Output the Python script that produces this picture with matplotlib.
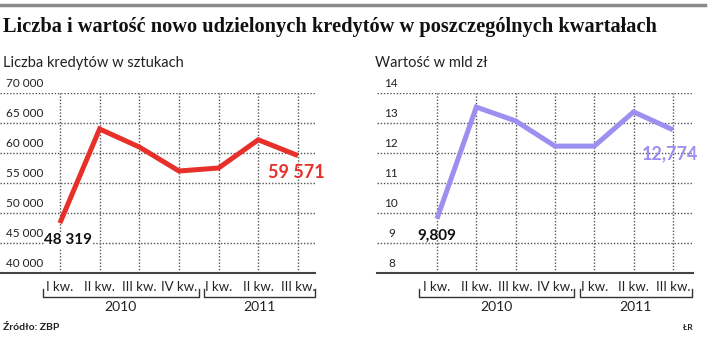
import matplotlib
matplotlib.use('Agg')
import matplotlib.pyplot as plt
import matplotlib.transforms as mtrans

# Dane (kwartały 2010-2011)
quarters = ['I kw.', 'II kw.', 'III kw.', 'IV kw.', 'I kw.', 'II kw.', 'III kw.']
years = ['2010', '2011']
count = [48319, 64000, 61000, 57000, 57500, 62200, 59571]
value = [9.809, 13.53, 13.07, 12.23, 12.23, 13.37, 12.774]
count_ticks = [40000, 45000, 50000, 55000, 60000, 65000, 70000]
count_tick_labels = ['40 000', '45 000', '50 000', '55 000', '60 000', '65 000', '70 000']
value_ticks = [8, 9, 10, 11, 12, 13, 14]

RED = '#e8302a'
PURPLE = '#9b8ff0'
GRID = '#555555'
W, H = 716, 342

plt.rcParams['font.family'] = ['Lato', 'DejaVu Sans']

fig = plt.figure(figsize=(W / 100, H / 100), dpi=100)


def px_axes(x0, x1, ytop, ybot):
    return fig.add_axes([x0 / W, (H - ybot) / H, (x1 - x0) / W, (ybot - ytop) / H])


def setup(ax, xlim, ylim, ticks):
    ax.set_xlim(*xlim)
    ax.set_ylim(*ylim)
    for s in ax.spines.values():
        s.set_visible(False)
    ax.set_xticks([])
    ax.set_yticks([])
    for t in ticks[1:]:
        ax.axhline(t, color=GRID, lw=1.0, ls=(0, (1, 1.3)), zorder=1)
    for i in range(len(quarters)):
        ax.axvline(i, color=GRID, lw=1.0, ls=(0, (1, 1.3)), zorder=1)
    ax.axhline(ylim[0], color='#444444', lw=1.5, zorder=2, clip_on=False)
    tr = mtrans.blended_transform_factory(ax.transData, ax.transAxes)
    for i, q in enumerate(quarters):
        ax.text(i, -0.078, q, transform=tr, ha='center', va='center',
                fontsize=9.5, color='#222222')
    return tr


def brackets(ax, tr, spans):
    for (a, b), yr in zip(spans, years):
        ax.plot([a, a, b, b], [-0.09, -0.133, -0.133, -0.09], transform=tr,
                color='#333333', lw=1.0, clip_on=False)
        ax.text((a + b) / 2, -0.19, yr, transform=tr, ha='center', va='center',
                fontsize=10, color='#222222')


# Lewy wykres - liczba kredytów
ax1 = px_axes(0, 315, 93, 273)
tr1 = setup(ax1, (-1.51, 6.43), (40000, 70000), count_ticks)
ax1.plot(range(len(count)), count, color=RED, lw=3.6, zorder=3,
         solid_capstyle='butt', solid_joinstyle='miter')
for t, lab in zip(count_ticks, count_tick_labels):
    ax1.annotate(lab, (-1.51, t), xytext=(4, 3), textcoords='offset points',
                 ha='left', va='bottom', fontsize=8.5, color='#222222')
ax1.annotate('48 319', (0, count[0]), xytext=(6, -12), textcoords='offset points',
             ha='center', va='center', fontsize=11, fontweight='bold', color='#111111',
             bbox=dict(boxstyle='square,pad=0.05', fc='white', ec='none'), zorder=4)
ax1.annotate('59 571', (6, count[-1]), xytext=(-1, -12), textcoords='offset points',
             ha='center', va='center', fontsize=13, fontweight='bold', color=RED)
brackets(ax1, tr1, [(-0.43, 3.5), (3.63, 6.43)])

# Prawy wykres - wartość
ax2 = px_axes(377, 693, 93, 273)
tr2 = setup(ax2, (-1.525, 6.51), (8, 14), value_ticks)
ax2.plot(range(len(value)), value, color=PURPLE, lw=3.6, zorder=3,
         solid_capstyle='butt', solid_joinstyle='miter')
for t in value_ticks:
    ax2.annotate(str(t), (-1.16, t), xytext=(0, 3), textcoords='offset points',
                 ha='center', va='bottom', fontsize=8.5, color='#222222')
ax2.annotate('9,809', (0, value[0]), xytext=(0, -12), textcoords='offset points',
             ha='center', va='center', fontsize=11, fontweight='bold', color='#111111')
ax2.annotate('12,774', (6, value[-1]), xytext=(-2, -17), textcoords='offset points',
             ha='center', va='center', fontsize=13, fontweight='bold', color=PURPLE)
brackets(ax2, tr2, [(-0.46, 3.48), (3.63, 6.48)])

# Nagłówki i podpisy
fig.add_artist(plt.Line2D([0, 705 / W], [1 - 5 / H, 1 - 5 / H], color='#8a8a8a', lw=2.5))
fig.text(3 / W, 1 - 27 / H, 'Liczba i wartość nowo udzielonych kredytów w poszczególnych kwartałach',
         family=['Liberation Serif', 'DejaVu Serif'], fontweight='bold', fontsize=14.7,
         ha='left', va='center', color='#111111')
fig.text(3 / W, 1 - 63 / H, 'Liczba kredytów w sztukach', fontsize=10.5,
         ha='left', va='center', color='#222222')
fig.text(375 / W, 1 - 63 / H, 'Wartość w mld zł', fontsize=10.5,
         ha='left', va='center', color='#222222')
fig.text(3 / W, 1 - 327 / H, 'Źródło: ZBP', fontsize=7.5, fontweight='bold',
         ha='left', va='center', color='#222222')
fig.text(693 / W, 1 - 327 / H, 'ŁR', fontsize=6, fontweight='bold',
         ha='right', va='center', color='#222222')

fig.savefig('out.png', dpi=100)
